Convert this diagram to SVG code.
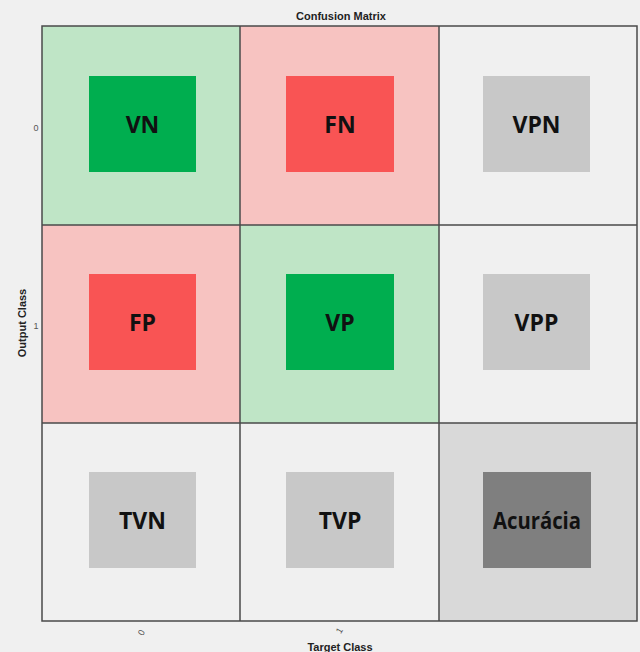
<svg xmlns="http://www.w3.org/2000/svg" width="640" height="652" viewBox="0 0 640 652">
  <style>
    .cell { stroke: none; }
    .inner { stroke: none; }
    .lbl { font-family: "Open Sans", "Liberation Sans", sans-serif; font-weight: 700; font-size: 23px; fill: #111; text-anchor: middle; }
    .axis { font-family: "Liberation Sans", Arial, sans-serif; font-weight: 700; font-size: 11px; fill: #222; text-anchor: middle; }
    .tick { font-family: "Liberation Sans", Arial, sans-serif; font-size: 9px; fill: #555; text-anchor: middle; }
    .grid { stroke: #4a4a4a; stroke-width: 1.5; fill: none; }
  </style>

  <!-- figure background -->
  <rect x="0" y="0" width="640" height="652" fill="#f0f0f0"/>

  <!-- title and axis labels -->
  <text class="axis" x="341" y="20">Confusion Matrix</text>
  <text class="axis" x="340" y="651">Target Class</text>
  <text class="axis" transform="translate(26,323) rotate(-90)">Output Class</text>

  <!-- tick labels -->
  <text class="tick" x="36" y="131">0</text>
  <text class="tick" x="36" y="329">1</text>
  <text class="tick" transform="translate(144,634) rotate(-60)">0</text>
  <text class="tick" transform="translate(342,632) rotate(-60)">1</text>

  <!-- row 0 -->
  <g id="vn">
    <rect class="cell" x="42" y="26" width="198" height="199" fill="#bfe5c6"/>
    <rect class="inner" x="89" y="76" width="107" height="96" fill="#00ae4f"/>
    <text class="lbl" x="142.5" y="133">VN</text>
  </g>
  <g id="fn">
    <rect class="cell" x="240" y="26" width="199" height="199" fill="#f7c3c1"/>
    <rect class="inner" x="286" y="76" width="108" height="96" fill="#f95454"/>
    <text class="lbl" x="340" y="133">FN</text>
  </g>
  <g id="vpn">
    <rect class="cell" x="439" y="26" width="198" height="199" fill="#f0f0f0"/>
    <rect class="inner" x="483" y="76" width="107" height="96" fill="#c8c8c8"/>
    <text class="lbl" x="536.5" y="133">VPN</text>
  </g>

  <!-- row 1 -->
  <g id="fp">
    <rect class="cell" x="42" y="225" width="198" height="198" fill="#f7c3c1"/>
    <rect class="inner" x="89" y="274" width="107" height="96" fill="#f95454"/>
    <text class="lbl" x="142.5" y="331">FP</text>
  </g>
  <g id="vp">
    <rect class="cell" x="240" y="225" width="199" height="198" fill="#bfe5c6"/>
    <rect class="inner" x="286" y="274" width="108" height="96" fill="#00ae4f"/>
    <text class="lbl" x="340" y="331">VP</text>
  </g>
  <g id="vpp">
    <rect class="cell" x="439" y="225" width="198" height="198" fill="#f0f0f0"/>
    <rect class="inner" x="483" y="274" width="107" height="96" fill="#c8c8c8"/>
    <text class="lbl" x="536.5" y="331">VPP</text>
  </g>

  <!-- row 2 -->
  <g id="tvn">
    <rect class="cell" x="42" y="423" width="198" height="198" fill="#f0f0f0"/>
    <rect class="inner" x="89" y="472" width="107" height="96" fill="#c8c8c8"/>
    <text class="lbl" x="142.5" y="529">TVN</text>
  </g>
  <g id="tvp">
    <rect class="cell" x="240" y="423" width="199" height="198" fill="#f0f0f0"/>
    <rect class="inner" x="286" y="472" width="108" height="96" fill="#c8c8c8"/>
    <text class="lbl" x="340" y="529">TVP</text>
  </g>
  <g id="acuracia">
    <rect class="cell" x="439" y="423" width="198" height="198" fill="#d9d9d9"/>
    <rect class="inner" x="483" y="472" width="108" height="96" fill="#7f7f7f"/>
    <text class="lbl" x="537" y="529" textLength="88" lengthAdjust="spacingAndGlyphs">Acurácia</text>
  </g>

  <!-- grid lines -->
  <g id="grid">
    <rect class="grid" x="42" y="26" width="595" height="595"/>
    <line class="grid" x1="240" y1="26" x2="240" y2="621"/>
    <line class="grid" x1="439" y1="26" x2="439" y2="621"/>
    <line class="grid" x1="42" y1="225" x2="637" y2="225"/>
    <line class="grid" x1="42" y1="423" x2="637" y2="423"/>
  </g>
</svg>
